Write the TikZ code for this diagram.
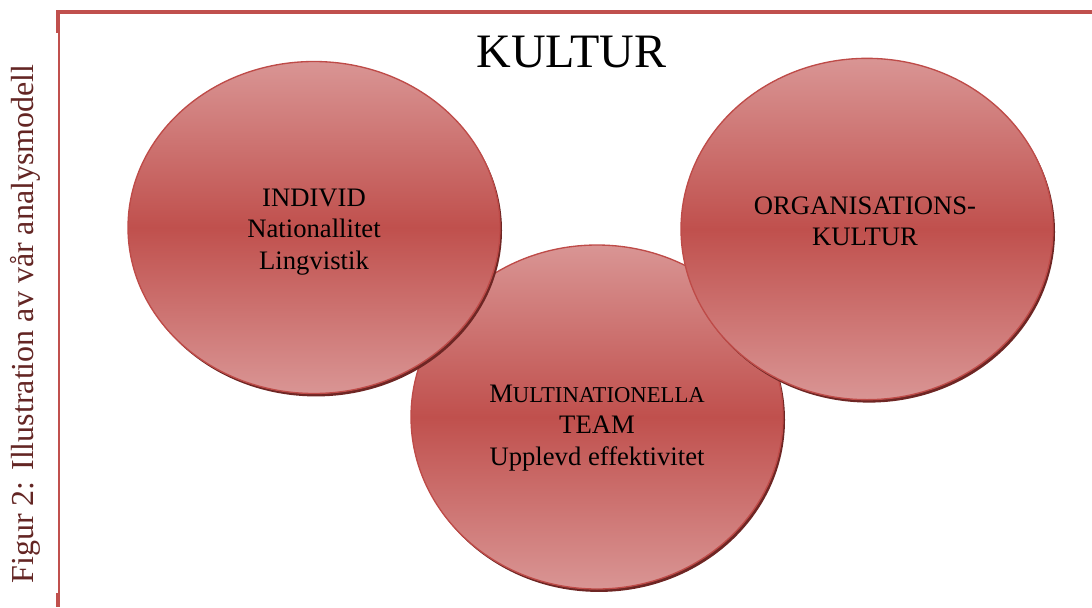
\documentclass[tikz,border=0pt]{standalone}
\usepackage{fontspec}
\setmainfont{Liberation Serif}
\usetikzlibrary{shapes.geometric,shadows}

\definecolor{framered}{HTML}{C0504D}
\definecolor{ellDark}{HTML}{C0504D}
\definecolor{ellLight}{HTML}{D99594}
\definecolor{ellEdge}{HTML}{BE4B48}
\definecolor{shadowred}{HTML}{6E2624}
\definecolor{captionred}{HTML}{632523}

\begin{document}
\begin{tikzpicture}[
    x=0.75pt, y=-0.75pt,
    every node/.style={inner sep=0pt},
    bubble/.style={ellipse, draw=ellEdge, line width=1pt,
        top color=ellLight, bottom color=ellLight, middle color=ellDark,
        drop shadow={shadow xshift=1.5pt, shadow yshift=-2.2pt,
            fill=shadowred, opacity=1}},
    bubbletext/.style={align=center, font=\fontsize{20}{23.5}\selectfont},
]

% Parameters
\def\bw{279pt}  % ellipse width

% === Bounding box ===
\useasboundingbox (0,0) rectangle (1092,607);

% === Frame ===
\draw[framered, line width=3pt] (56,12) -- (1092,12);
\fill[framered] (56,10) rectangle (60,33);
\draw[framered, line width=0.8pt] (59,33) -- (59,593);
\fill[framered] (56,593) rectangle (60,607);

% === Caption (rotated) ===
\node[rotate=90, anchor=base, text=captionred, font=\fontsize{24}{28}\selectfont]
    (caption) at (33,324) {Figur 2: Illustration av vår analysmodell};

% === Title ===
\node[anchor=base, font=\fontsize{36}{43}\selectfont] (title) at (571.5,67) {KULTUR};

% === Ellipses (middle one first, the others overlap it) ===
\node[bubble, minimum width=\bw, minimum height=258pt] (team) at (597,417) {};
\node[bubble, minimum width=\bw, minimum height=249pt] (individ) at (314,227.5) {};
\node[bubble, minimum width=\bw, minimum height=256pt] (org) at (867,229) {};

% === Ellipse texts ===
\node[bubbletext] (individtext) at (314,232)
    {INDIVID\\Nationallitet\\Lingvistik};
\node[bubbletext] (orgtext) at (865,221)
    {ORGANISATIONS-\\KULTUR};
\node[bubbletext] (teamtext) at (597,428)
    {M{\fontsize{17}{23.5}\selectfont ULTINATIONELLA}\\TEAM\\Upplevd effektivitet};

\end{tikzpicture}
\end{document}
